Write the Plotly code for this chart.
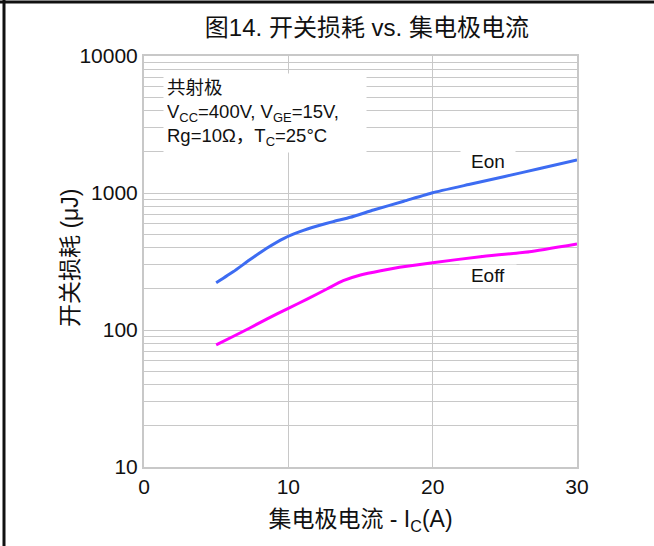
import plotly.graph_objects as go

# collector current (A) and switching energy (uJ)
ic_on = [5, 6.2, 7.3, 8.5, 9.7, 10.8, 12, 13.1, 14.3, 15.9, 18, 20, 22.5, 25, 27.5, 30]
eon = [221, 267, 324, 395, 467, 522, 574, 618, 665, 751, 871, 1005, 1153, 1320, 1517, 1740]

ic_off = [5, 6.2, 7.3, 8.5, 10, 11.3, 12.7, 13.8, 15, 16.4, 17.7, 20, 23.3, 26.7, 30]
eoff = [78, 90, 103, 120, 144, 168, 200, 229, 252, 271, 287, 310, 343, 373, 425]

BLUE = "#3d6cf2"
MAGENTA = "#ff00ff"
GRID = "#c8c8c8"
FONT = "Liberation Sans, Noto Sans CJK SC, sans-serif"

fig = go.Figure()

fig.add_trace(go.Scatter(
    x=ic_on, y=eon, mode="lines", name="Eon",
    line=dict(color=BLUE, width=3, shape="spline", smoothing=0.4),
))
fig.add_trace(go.Scatter(
    x=ic_off, y=eoff, mode="lines", name="Eoff",
    line=dict(color=MAGENTA, width=3, shape="spline", smoothing=0.4),
))

fig.update_layout(
    width=654, height=546,
    margin=dict(l=144, r=77, t=56, b=79),
    paper_bgcolor="white",
    plot_bgcolor="white",
    showlegend=False,
    font=dict(family=FONT, color="#111111"),
    title=dict(
        text="图14. 开关损耗 vs. 集电极电流",
        x=0.561, xanchor="center", y=0.949, yanchor="middle",
        font=dict(size=24, family=FONT),
    ),
)

fig.update_xaxes(
    range=[0, 30], dtick=10, tick0=0,
    showgrid=True, gridcolor=GRID, gridwidth=1,
    showline=True, linecolor=GRID, linewidth=2, mirror=True,
    ticks="", zeroline=False,
    tickfont=dict(size=21),
    title=dict(text="集电极电流 - I<sub>C</sub>(A)", font=dict(size=23), standoff=14),
)
fig.update_yaxes(
    type="log", range=[1, 4], dtick=1, tickformat="d",
    showgrid=True, gridcolor=GRID, gridwidth=1,
    minor=dict(dtick="D1", showgrid=True, gridcolor=GRID, gridwidth=1, ticks=""),
    showline=True, linecolor=GRID, linewidth=2, mirror=True,
    ticks="", zeroline=False,
    tickfont=dict(size=21),
)

# y axis title, placed as an annotation to sit close to the tick labels
fig.add_annotation(
    xref="paper", yref="paper", x=(70 - 144) / 433, y=(467 - 258) / 411,
    xanchor="center", yanchor="middle",
    text="开关损耗 (μJ)", textangle=-90, showarrow=False,
    font=dict(size=23, family=FONT),
)

# conditions box
fig.add_annotation(
    xref="x", yref="y", x=1.35, y=3.876, xanchor="left", yanchor="top",
    text="共射极<br>V<sub>CC</sub>=400V, V<sub>GE</sub>=15V,<br>Rg=10Ω，T<sub>C</sub>=25°C",
    align="left", showarrow=False, bgcolor="white", borderpad=3,
    width=196, font=dict(size=18.5, family=FONT),
)

# curve labels
fig.add_annotation(
    xref="x", yref="y", x=23.85, y=3.23, text="Eon", showarrow=False,
    bgcolor="white", borderpad=0, width=54, height=20, font=dict(size=19, family=FONT),
)
fig.add_annotation(
    xref="x", yref="y", x=23.85, y=2.40, text="Eoff", showarrow=False,
    bgcolor="white", borderpad=0, width=56, height=20, font=dict(size=19, family=FONT),
)

# outer frame (top and left edges of the figure)
fig.add_shape(type="line", xref="paper", yref="paper",
              x0=-144 / 433, x1=(654 - 144) / 433, y0=1 + 54 / 411, y1=1 + 54 / 411,
              line=dict(color="#111111", width=3))
fig.add_shape(type="line", xref="paper", yref="paper",
              x0=-140 / 433, x1=-140 / 433, y0=-79 / 411, y1=1 + 56 / 411,
              line=dict(color="#111111", width=3))

fig.write_html(
    "out.html",
    config={"displayModeBar": False},
    post_script="document.body.style.margin='0';",
)
